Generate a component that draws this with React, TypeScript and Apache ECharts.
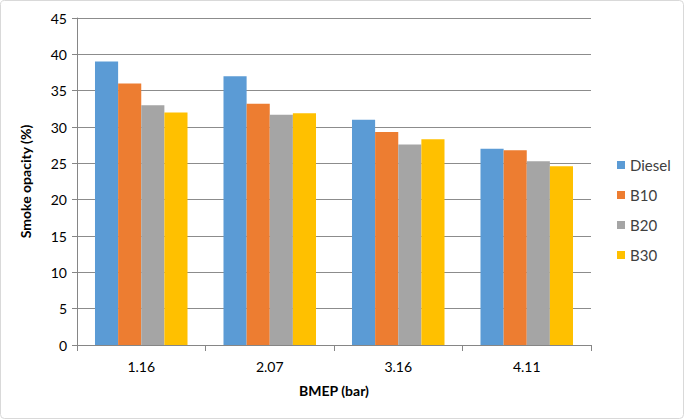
import React, { useEffect, useRef } from "react";
import * as echarts from "echarts";

const categories = ["1.16", "2.07", "3.16", "4.11"];
const seriesNames = ["Diesel", "B10", "B20", "B30"];
const diesel = [39, 37, 31, 27];
const b10 = [36, 33.2, 29.3, 26.8];
const b20 = [33, 31.7, 27.6, 25.3];
const b30 = [32, 31.9, 28.3, 24.6];
const colors = ["#5b9bd5", "#ed7d31", "#a5a5a5", "#ffc000"];
const yTicks = [0, 5, 10, 15, 20, 25, 30, 35, 40, 45];

export default function App() {
  const ref = useRef<HTMLDivElement>(null);
  useEffect(() => {
    if (!ref.current) return;
    const chart = echarts.init(ref.current, null, { renderer: "svg" });
    const font = "Lato, 'Liberation Sans', sans-serif";
    const data = [diesel, b10, b20, b30];
    chart.setOption({
      animation: false,
      textStyle: { fontFamily: font },
      graphic: [
        {
          type: "rect",
          shape: { x: 0.5, y: 0.5, width: 683, height: 418, r: 4 },
          style: { fill: "none", stroke: "#d9d9d9", lineWidth: 1 },
        },
      ],
      grid: { left: 77, right: 94, top: 18, bottom: 75 },
      legend: {
        orient: "vertical",
        left: 612,
        top: 151,
        itemWidth: 8,
        itemHeight: 8,
        itemGap: 12,
        icon: "rect",
        data: seriesNames,
        textStyle: { fontSize: 15, color: "#404040", fontFamily: font, lineHeight: 18 },
      },
      xAxis: {
        type: "category",
        data: categories,
        name: "BMEP (bar)",
        nameLocation: "middle",
        nameGap: 38,
        nameTextStyle: { fontSize: 14, fontWeight: "bold", color: "#000", fontFamily: font },
        axisLine: { lineStyle: { color: "#868686" } },
        axisTick: { show: true, length: 6, lineStyle: { color: "#868686" } },
        axisLabel: { fontSize: 14, color: "#000", margin: 14, fontFamily: font },
      },
      yAxis: {
        type: "value",
        min: 0,
        max: 45,
        interval: 5,
        name: "Smoke opacity (%)",
        nameLocation: "middle",
        nameGap: 45,
        nameRotate: 90,
        nameTextStyle: { fontSize: 14, fontWeight: "bold", color: "#000", fontFamily: font },
        axisLine: { show: true, lineStyle: { color: "#868686" } },
        axisTick: { show: true, length: 5, lineStyle: { color: "#868686" } },
        axisLabel: {
          fontSize: 14,
          color: "#000",
          margin: 10,
          fontFamily: font,
          formatter: (v: number) => (yTicks.includes(v) ? String(v) : ""),
        },
        splitLine: { lineStyle: { color: "#8c8c8c", width: 1 } },
      },
      series: seriesNames.map((n, i) => ({
        name: n,
        type: "bar",
        data: data[i],
        barGap: "0%",
        barCategoryGap: "28%",
        itemStyle: { color: colors[i] },
      })),
    });
    return () => chart.dispose();
  }, []);
  return <div ref={ref} style={{ width: 685, height: 420, position: "absolute", left: 0, top: 0 }} />;
}
